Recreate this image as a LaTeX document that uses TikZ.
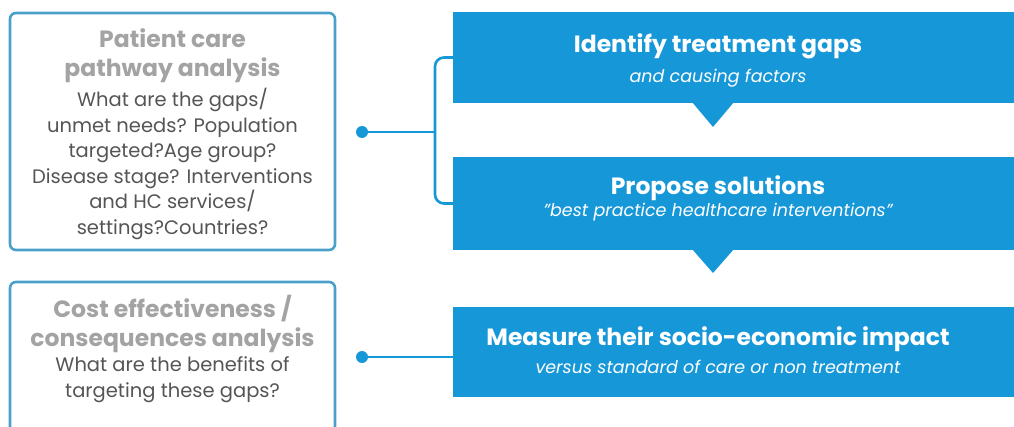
\documentclass[tikz,border=0pt]{standalone}
\usepackage{fontspec}
\setmainfont{Poppins}
\usetikzlibrary{positioning}

\definecolor{stepblue}{HTML}{1697D8}
\definecolor{framecol}{HTML}{4AA0C8}
\definecolor{headgray}{HTML}{A3A3A3}
\definecolor{bodygray}{HTML}{555555}

\tikzset{
  qbox/.style={draw=framecol, line width=2.6pt, rounded corners=6pt, fill=white},
  stepbox/.style={fill=stepblue, inner sep=0pt},
  hd/.style={text=headgray, font=\fontsize{23.5}{29}\selectfont\bfseries, align=center, inner sep=0pt},
  bd/.style={text=bodygray, font=\fontsize{19.5}{25.5}\selectfont, align=center, inner sep=0pt},
  st/.style={text=white, font=\fontsize{23.5}{28}\selectfont\bfseries, inner sep=0pt},
  sub/.style={text=white, font=\fontsize{17.5}{21}\selectfont\itshape, inner sep=0pt},
  dot/.style={circle, fill=stepblue, inner sep=0pt, minimum size=12pt},
  link/.style={draw=stepblue, line width=2.6pt},
}

\begin{document}
\begin{tikzpicture}[x=1pt,y=-1pt]
  \useasboundingbox (0,0) rectangle (1014,427);
  % question boxes on the left
  \node[qbox, minimum width=325pt, minimum height=237pt] (care) at (172.5,131.5) {};
  \node[qbox, minimum width=325pt, minimum height=160pt] (cost) at (172.5,362) {};
  \node[hd, anchor=base] (carehd) at (172.5,77) {Patient care\\pathway analysis};
  \node[bd, anchor=base] (carebd) at (172.5,234.5) {What are the gaps/\\unmet needs? Population\\targeted?Age group?\\Disease stage? Interventions\\and HC services/\\settings?Countries?};
  \node[hd, anchor=base] (costhd) at (172.5,347) {Cost effectiveness /\\consequences analysis};
  \node[bd, anchor=base] (costbd) at (172.5,397) {What are the benefits of\\targeting these gaps?};

  % steps on the right
  \node[stepbox, minimum width=561pt, minimum height=91pt] (gaps) at (733.5,57.5) {};
  \node[stepbox, minimum width=561pt, minimum height=93pt] (solutions) at (733.5,203.5) {};
  \node[stepbox, minimum width=561pt, minimum height=90pt] (impact) at (733.5,352) {};
  \fill[stepblue] (692,102) -- (734,102) -- (713,127) -- cycle;
  \fill[stepblue] (692,249) -- (734,249) -- (713,273) -- cycle;
  \node[st, anchor=base] (gapst) at (718,53) {Identify treatment gaps};
  \node[sub, anchor=base] (gapsub) at (718,83) {and causing factors};
  \node[st, anchor=base] (solst) at (718,195) {Propose solutions};
  \node[sub, anchor=base] (solsub) at (718,217) {"best practice healthcare interventions"};
  \node[st, anchor=base] (impst) at (718,345) {Measure their socio-economic impact};
  \node[sub, anchor=base] (impsub) at (718,373) {versus standard of care or non treatment};

  % connectors
  \node[dot] (caredot) at (362,132) {};
  \node[dot] (costdot) at (362,357) {};
  \coordinate (fork) at (435,132);
  \draw[link] (caredot) -- (fork);
  \draw[link, rounded corners=9pt] (gaps.west) -| (fork) |- (solutions.west);
  \draw[link] (costdot) -- (costdot -| impact.west);
\end{tikzpicture}
\end{document}
